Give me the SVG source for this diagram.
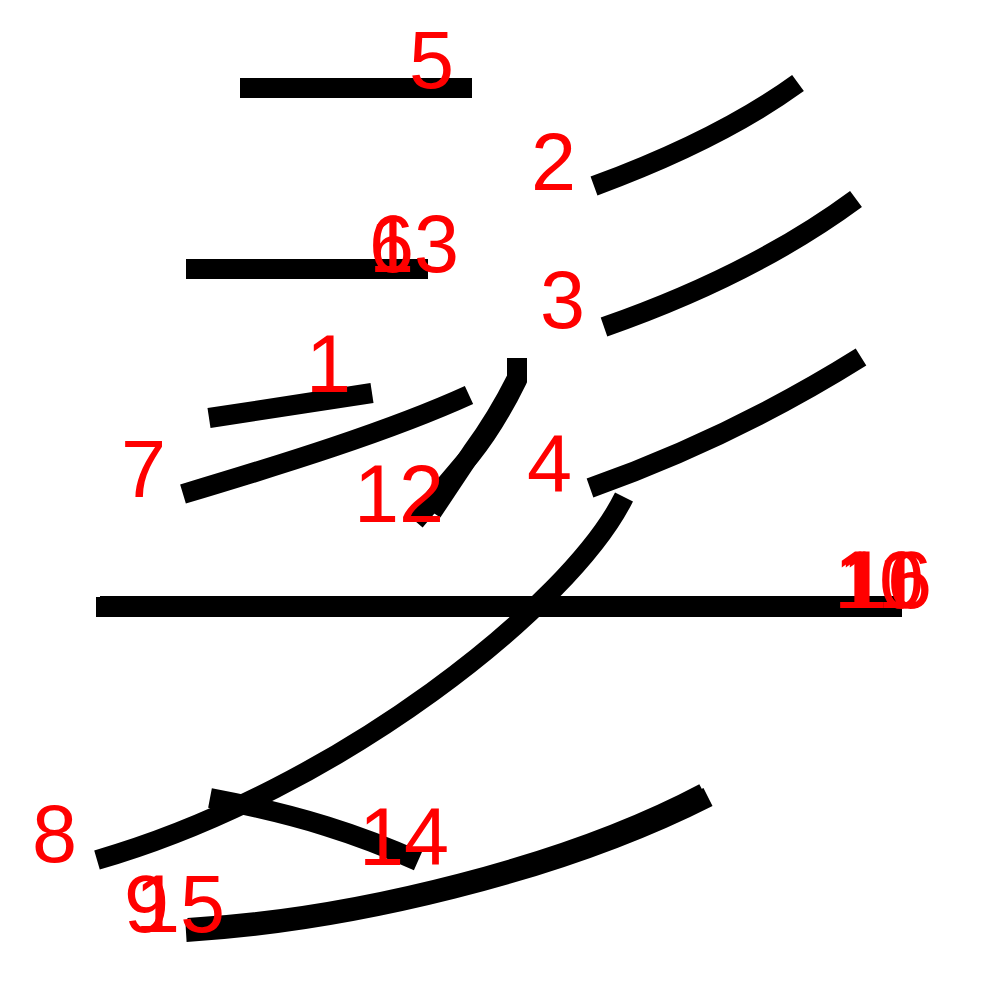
<svg xmlns="http://www.w3.org/2000/svg" width="1000" height="1000" viewBox="0 0 1000 1000">
<style>
.s{fill:none;stroke:#000;stroke-width:20;stroke-linecap:butt;stroke-linejoin:miter}
.n{fill:#f00;font-family:"Liberation Sans",Arial,sans-serif;font-size:81px}
</style>
<rect width="1000" height="1000" fill="#fff"/>
<g id="strokes">
<path id="s1" class="s" d="M209,418 L372,393"/>
<path id="s2" class="s" d="M594,186 C670,158 740,125 798,83"/>
<path id="s3" class="s" d="M604,327 C690,297 780,255 856,199"/>
<path id="s4" class="s" d="M590,488 C680,456 770,414 861,357"/>
<path id="s5" class="s" d="M240,88 L472,88"/>
<path id="s6" class="s" d="M186,269 L428,269"/>
<path id="s7" class="s" d="M183,494 C280,465 390,431 469,395"/>
<path id="s8" class="s" d="M624,497 C572,603 340,790 97,860"/>
<path id="s9" class="s" d="M186,932 C350,922 560,872 708,797"/>
<path id="s10" class="s" d="M96,607 L902,607"/>
<path id="s11" class="s" d="M517,358 L517,380 Q495,425 470,456 L415,521"/>
<path id="s12" class="s" d="M517,358 L517,378 Q497,418 472,452 L432,512"/>
<path id="s13" class="s" d="M186,269 L428,269"/>
<path id="s14" class="s" d="M210,798 C300,815 360,835 418,861"/>
<path id="s15" class="s" d="M188,928 C360,918 570,864 704,793"/>
<path id="s16" class="s" d="M100,606 L900,606"/>
</g>
<g id="labels">
<text class="n" x="306" y="392">1</text>
<text class="n" x="531" y="190">2</text>
<text class="n" x="540" y="328">3</text>
<text class="n" x="527" y="492">4</text>
<text class="n" x="409" y="88">5</text>
<text class="n" x="369" y="272">6</text>
<text class="n" x="121" y="497">7</text>
<text class="n" x="32" y="862">8</text>
<text class="n" x="124" y="932">9</text>
<text class="n" x="834" y="608">10</text>
<text class="n" x="838" y="608">11</text>
<text class="n" x="354" y="522">12</text>
<text class="n" x="369" y="272">13</text>
<text class="n" x="359" y="865">14</text>
<text class="n" x="135" y="932">15</text>
<text class="n" x="842" y="608">16</text>
</g>
</svg>
